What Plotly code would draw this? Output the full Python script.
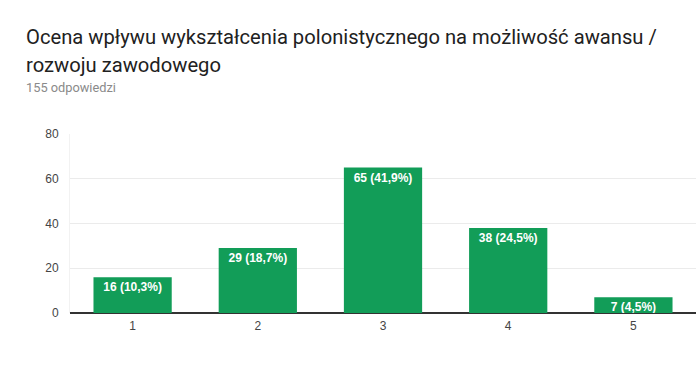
import plotly.graph_objects as go

categories = ["1", "2", "3", "4", "5"]
counts = [16, 29, 65, 38, 7]
total = 155
y_ticks = [0, 20, 40, 60, 80]

labels = [f"{c} ({c / total * 100:.1f}%)".replace(".", ",") for c in counts]

W, H = 696, 388
ml, mr, mt, mb = 70, 0, 134, 75
pw, ph = W - ml - mr, H - mt - mb


def px(x):
    return (x - ml) / pw


def py(y):
    return 1 + (mt - y) / ph


fig = go.Figure(go.Bar(
    x=categories, y=counts, text=labels,
    textposition="inside", insidetextanchor="end", constraintext="none",
    textfont=dict(family="Arial, Liberation Sans", size=12, color="white", weight="bold"),
    marker=dict(color="#129d58", line=dict(width=0)),
    width=0.625, hoverinfo="skip",
))

title_font = dict(family="Roboto", size=20.2, color="#212121")
fig.update_layout(
    width=W, height=H,
    margin=dict(l=ml, r=mr, t=mt, b=mb),
    paper_bgcolor="white", plot_bgcolor="white",
    showlegend=False,
    annotations=[
        dict(text="Ocena wpływu wykształcenia polonistycznego na możliwość awansu /",
             showarrow=False, xref="paper", yref="paper", x=px(24), y=py(37),
             xanchor="left", yanchor="middle", font=title_font),
        dict(text="rozwoju zawodowego",
             showarrow=False, xref="paper", yref="paper", x=px(24), y=py(65),
             xanchor="left", yanchor="middle", font=title_font),
        dict(text="155 odpowiedzi", showarrow=False,
             xref="paper", yref="paper", x=px(24), y=py(88),
             xanchor="left", yanchor="middle",
             font=dict(family="Roboto", size=12.8, color="#8a8a8a")),
    ],
    xaxis=dict(
        type="category", showgrid=False, ticks="",
        tickfont=dict(family="Arial, Liberation Sans", size=12, color="#444444"),
        showline=False, ticklabelstandoff=4,
    ),
    yaxis=dict(
        range=[0, 80], tickvals=y_ticks, showgrid=True, gridcolor="#ebebeb", gridwidth=1,
        zeroline=True, zerolinecolor="#333333", zerolinewidth=1.5,
        showline=True, linecolor="#f2f2f2", linewidth=1, mirror=True,
        tickfont=dict(family="Arial, Liberation Sans", size=12, color="#444444"),
        ticks="", ticklabelstandoff=8,
    ),
)

fig.write_html("out.html", post_script="document.body.style.margin='0';",
               config={"displayModeBar": False, "staticPlot": True})
